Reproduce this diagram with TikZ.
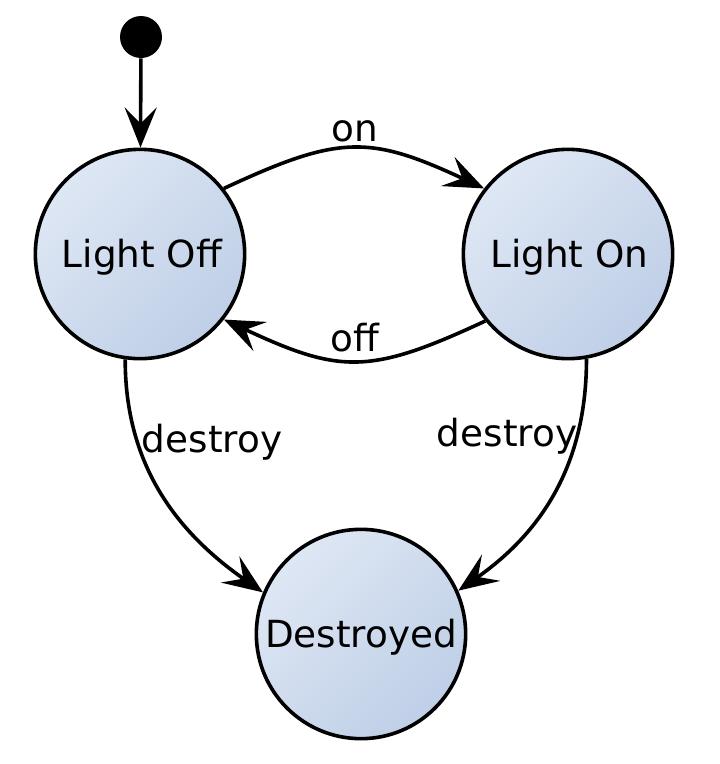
\documentclass[tikz,border=0pt]{standalone}
\usepackage{fontspec}
\setmainfont{DejaVu Sans}
\usetikzlibrary{arrows.meta}
\definecolor{stlight}{HTML}{DEE7F4}
\definecolor{stdark}{HTML}{BFCFE7}
\begin{document}
\begin{tikzpicture}[x=0.75pt,y=-0.75pt,
  state/.style={circle,draw=black,line width=2.7pt,minimum size=157pt,inner sep=0pt,
    top color=stlight,bottom color=stdark,shading angle=45,
    font=\fontsize{28}{33}\selectfont,text height=20.4pt,text depth=0pt},
  initdot/.style={circle,fill=black,minimum size=31.5pt,inner sep=0pt},
  trans/.style={line width=2.7pt,-{Stealth[length=30pt,width=24pt,inset=12pt]}},
  lbl/.style={font=\fontsize{28}{33}\selectfont,inner sep=0pt}]
\useasboundingbox (0,0) rectangle (720,764);
\node[initdot] (init) at (141,37) {};
\node[state] (off) at (140,254) {\hspace*{3pt}Light Off};
\node[state] (on) at (568,254) {\hspace*{2pt}Light On};
\node[state] (dest) at (361,634) {Destroyed};
\draw[trans] (init) -- (off);
\draw[trans] (off.38) to[out=25,in=155,looseness=1.25] (on.142);
\draw[trans] (on.219) to[out=-155,in=-25,looseness=1.25] (off.-38);
\draw[trans] (off.-98) to[out=-90,in=145] (dest.157);
\draw[trans] (on.-80) to[out=-90,in=35] (dest.24);
\node[lbl] (lon) at (355,131) {on};
\node[lbl] (loff) at (355,338) {off};
\node[lbl] (ld1) at (212,442) {destroy};
\node[lbl] (ld2) at (507,436) {destroy};
\end{tikzpicture}
\end{document}
